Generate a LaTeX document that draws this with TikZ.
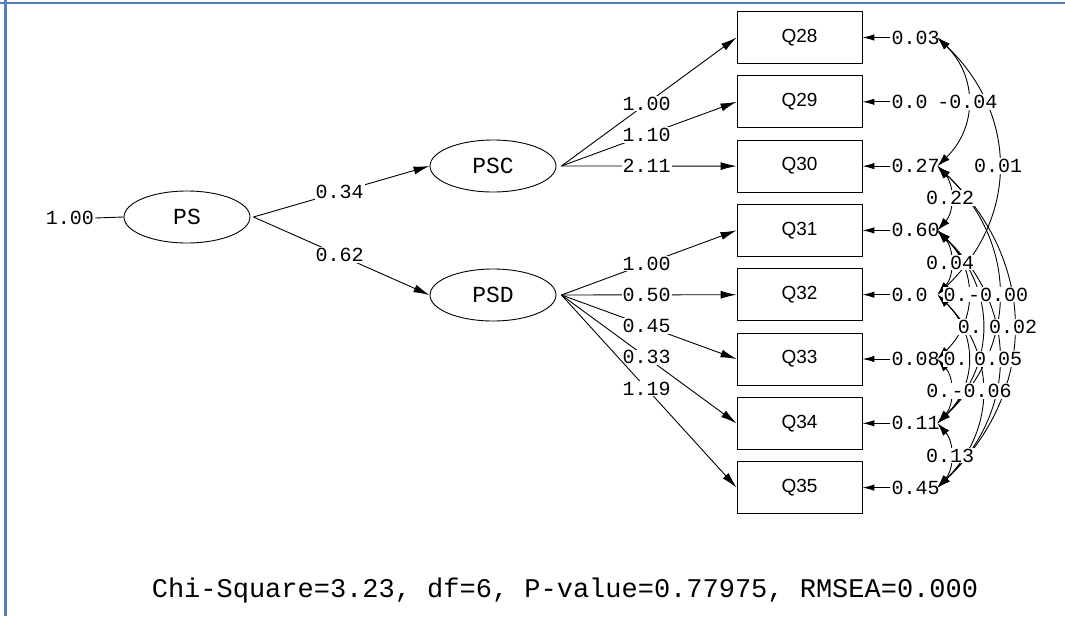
\documentclass[tikz,border=0pt]{standalone}
\usepackage{fontspec}
\setmainfont{Liberation Sans}
\newfontfamily\lismono{Liberation Mono}
\usetikzlibrary{shapes.geometric,arrows.meta,calc}
\definecolor{frameblue}{RGB}{79,129,189}
\begin{document}
\begin{tikzpicture}[x=1pt,y=-1pt,
  latent/.style={ellipse,draw,line width=0.9pt,inner sep=0pt,minimum width=126pt,minimum height=52pt,font=\lismono\fontsize{23}{27}\selectfont},
  obs/.style={rectangle,draw,line width=0.9pt,inner sep=0pt,minimum width=125pt,minimum height=52pt,font=\fontsize{19}{23}\selectfont},
  valtxt/.style={font=\lismono\fontsize{20}{24}\selectfont,inner sep=1pt},
  wval/.style={valtxt,fill=white},
  load/.style={line width=0.9pt,-{Latex[length=16pt,width=8pt]}},
  errarr/.style={line width=1pt,-{Latex[length=12pt,width=6.5pt]}},
  cov/.style={line width=0.9pt,{Latex[length=13pt,width=8pt]}-{Latex[length=13pt,width=8pt]}},
  frameline/.style={draw=frameblue,line width=2.5pt}
]
\useasboundingbox (0,0) rectangle (1065,616);
\fill[white] (0,0) rectangle (1065,616);
\draw[frameline] (0,3) -- (1065,3);
\draw[frameline] (5.5,0) -- (5.5,616);

% latent variables
\node[latent] (PS) at (187,217) {PS};
\node[latent] (PSC) at (493,166) {PSC};
\node[latent] (PSD) at (493,295) {PSD};
\node[valtxt] (v0) at (70,218) {1.00};
\draw[line width=0.9pt] (v0.east) -- (PS.west);

% observed variables
\foreach \n/\y in {28/37.5,29/101.8,30/166.1,31/230.4,32/294.7,33/359.0,34/423.3,35/487.6}
  \node[obs] (Q\n) at (799.5,\y) {Q\n};

\coordinate (PSo) at ([xshift=3pt]PS.east);
\coordinate (PSCo) at ([xshift=5pt]PSC.east);
\coordinate (PSDo) at ([xshift=5pt]PSD.east);

\draw[load] (PSo) -- node[wval,pos=0.49] (l1) {0.34} (PSC.west);
\draw[load] (PSo) -- node[wval,pos=0.49] (l2) {0.62} (PSD.west);

\draw[load] (PSCo) -- node[wval,pos=0.486] (l28) {1.00} (Q28.west);
\draw[load] (PSCo) -- node[wval,pos=0.486] (l29) {1.10} (Q29.west);
\draw[load] (PSCo) -- node[wval,pos=0.486] (l30) {2.11} (Q30.west);
\draw[load] (PSDo) -- node[wval,pos=0.486] (l31) {1.00} (Q31.west);
\draw[load] (PSDo) -- node[wval,pos=0.486] (l32) {0.50} (Q32.west);
\draw[load] (PSDo) -- node[wval,pos=0.486] (l33) {0.45} (Q33.west);
\draw[load] (PSDo) -- node[wval,pos=0.486] (l34) {0.33} (Q34.west);
\draw[load] (PSDo) -- node[wval,pos=0.486] (l35) {1.19} (Q35.west);

% error variances
\foreach \n/\v in {28/0.03,29/0.0,30/0.27,31/0.60,32/0.0,33/0.08,34/0.11,35/0.45}{
  \node[valtxt,anchor=west] (e\n) at ([xshift=28pt]Q\n.east) {\v};
  \coordinate (k\n) at ([xshift=47pt]e\n.west);
  \draw[errarr] (e\n.west) -- (Q\n.east);
}

% error covariances
\draw[cov] (k30) .. controls ($(k30)+(17,19)$) and ($(k31)+(17,-19)$) .. (k31) coordinate[pos=0.5] (m3031);
\draw[cov] (k31) .. controls ($(k31)+(17,19)$) and ($(k32)+(17,-19)$) .. (k32) coordinate[pos=0.5] (m3132);
\draw[cov] (k33) .. controls ($(k33)+(17,19)$) and ($(k34)+(17,-19)$) .. (k34) coordinate[pos=0.5] (m3334);
\draw[cov] (k34) .. controls ($(k34)+(17,19)$) and ($(k35)+(17,-19)$) .. (k35) coordinate[pos=0.5] (m3435);
\draw[cov] (k28) .. controls ($(k28)+(40,39)$) and ($(k30)+(40,-39)$) .. (k30) coordinate[pos=0.5] (m2830);
\draw[cov] (k31) .. controls ($(k31)+(40,39)$) and ($(k33)+(40,-39)$) .. (k33) coordinate[pos=0.5] (m3133);
\draw[cov] (k32) .. controls ($(k32)+(40,39)$) and ($(k34)+(40,-39)$) .. (k34) coordinate[pos=0.5] (m3234);
\draw[cov] (k31) .. controls ($(k31)+(59,58)$) and ($(k34)+(59,-58)$) .. (k34) coordinate[pos=0.5] (m3134);
\draw[cov] (k32) .. controls ($(k32)+(59,58)$) and ($(k35)+(59,-58)$) .. (k35) coordinate[pos=0.5] (m3235);
\draw[cov] (k28) .. controls ($(k28)+(81,77)$) and ($(k32)+(81,-77)$) .. (k32) coordinate[pos=0.5] (m2832);
\draw[cov] (k30) .. controls ($(k30)+(81,77)$) and ($(k34)+(81,-77)$) .. (k34) coordinate[pos=0.5] (m3034);
\draw[cov] (k31) .. controls ($(k31)+(81,77)$) and ($(k35)+(81,-77)$) .. (k35) coordinate[pos=0.5] (m3135);
\draw[cov] (k30) .. controls ($(k30)+(101,96)$) and ($(k35)+(101,-96)$) .. (k35) coordinate[pos=0.5] (m3035);

\node[wval] (c3031) at (m3031) {0.22};
\node[wval] (c3132) at (m3132) {0.04};
\node[wval,anchor=west] (c3334) at ([xshift=-25pt]m3334) {0.};
\node[wval] (c3435) at (m3435) {0.13};
\node[wval] (c2830) at (m2830) {-0.04};
\node[wval,anchor=west] (c3133) at ([xshift=-25pt]m3133) {0.};
\node[wval,anchor=west] (c3234) at ([xshift=-25pt]m3234) {0.};
\node[wval,anchor=west] (c3134) at ([xshift=-25pt]m3134) {0.};
\node[wval] (c3235) at (m3235) {-0.06};
\node[wval] (c2832) at (m2832) {0.01};
\node[wval] (c3034) at (m3034) {-0.00};
\node[wval] (c3135) at (m3135) {0.05};
\node[wval] (c3035) at (m3035) {0.02};

% fit statistics
\node[font=\lismono\fontsize{27}{32}\selectfont,inner sep=0pt] (fit) at (565,591) {Chi-Square=3.23, df=6, P-value=0.77975, RMSEA=0.000};
\end{tikzpicture}
\end{document}
